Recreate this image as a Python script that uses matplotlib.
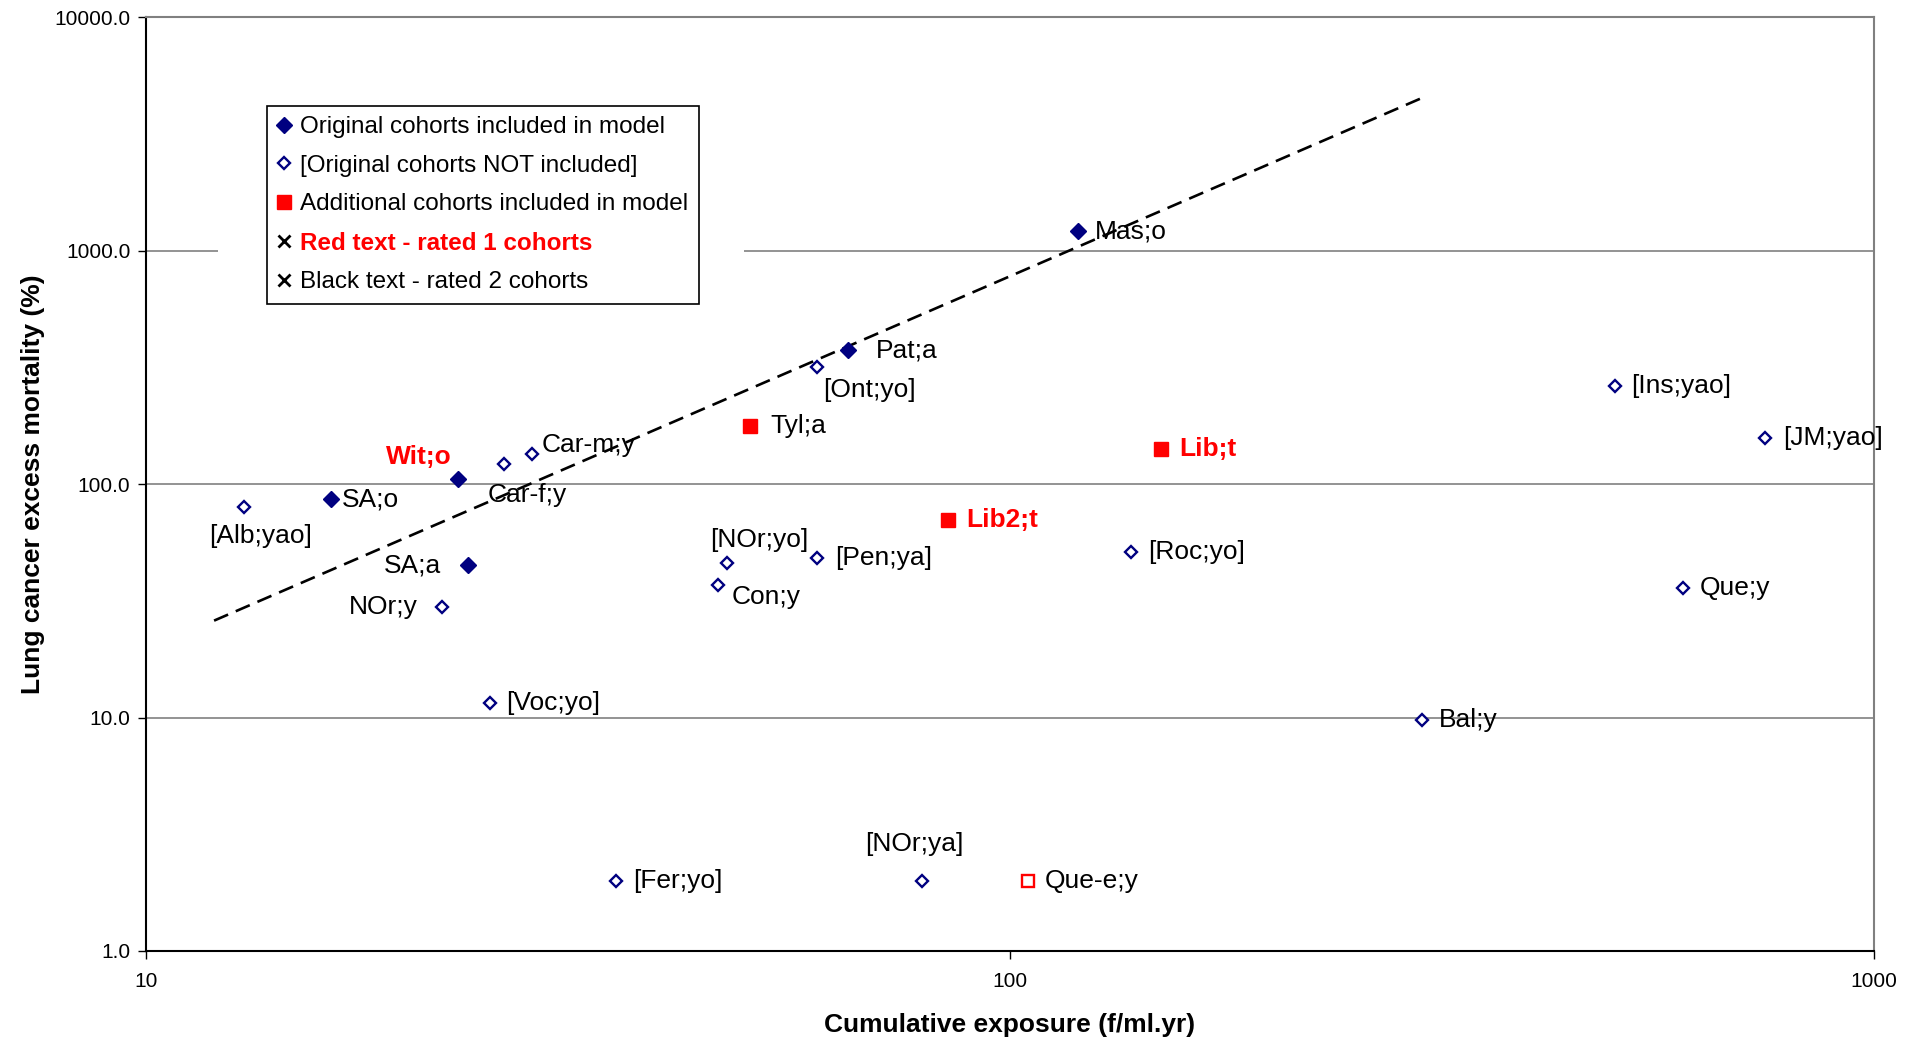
import matplotlib
matplotlib.use("Agg")
import matplotlib.pyplot as plt
from matplotlib.lines import Line2D
from matplotlib.patches import Rectangle
from matplotlib.ticker import FuncFormatter, FixedLocator, NullLocator

plt.rcParams['font.family'] = ['Liberation Sans', 'DejaVu Sans']
plt.rcParams['lines.scale_dashes'] = False

NAVY = '#000080'
RED = '#FF0000'

# original cohorts included in model (filled navy diamond)
orig_in_labels = ['Mas;o', 'Pat;a', 'Wit;o', 'SA;o', 'SA;a']
orig_in_x = [120, 65, 23.0, 16.4, 23.6]
orig_in_y = [1209, 375, 105.6, 86, 44.8]

# original cohorts NOT included (open navy diamond)
orig_out_labels = ['[Ont;yo]', 'Car-m;y', 'Car-f;y', '[Alb;yao]', 'NOr;y', '[Voc;yo]',
                   '[NOr;yo]', 'Con;y', '[Pen;ya]', '[Roc;yo]', '[Ins;yao]', '[JM;yao]',
                   'Que;y', 'Bal;y', '[Fer;yo]', '[NOr;ya]']
orig_out_x = [59.9, 28.0, 26.0, 13.0, 22.0, 25.0, 47.1, 46.0, 59.9, 138, 501, 748,
              601, 300, 35.0, 79.1]
orig_out_y = [317, 134, 122, 80, 29.7, 11.5, 45.9, 36.9, 48.2, 51.2, 264, 157,
              36, 9.8, 2.0, 2.0]

# additional cohorts included in model (red square)
add_labels = ['Tyl;a', 'Lib;t', 'Lib2;t']
add_x = [50.1, 149.8, 84.9]
add_y = [177, 141, 70]

# additional cohort shown as open red square
extra_labels = ['Que-e;y']
extra_x = [105]
extra_y = [2.0]

# rated 1 cohorts (red bold text)
rated1 = ['Wit;o', 'Lib;t', 'Lib2;t']

# fitted model line
fit_x = [12.0, 300]
fit_y = [26.0, 4508]

# label offsets in pixels and alignment
label_pos = {
    'Mas;o': (17, 0, 'left'), 'Pat;a': (28, 0, 'left'), '[Ont;yo]': (6, -23, 'left'),
    'Tyl;a': (20, 0, 'left'), 'Lib;t': (18, 0, 'left'), 'Lib2;t': (18, 0, 'left'),
    'Wit;o': (-7, 22, 'right'), 'Car-m;y': (10, 9, 'left'), 'Car-f;y': (-17, -31, 'left'),
    'SA;o': (11, 0, 'left'), '[Alb;yao]': (16, -29, 'center'), 'SA;a': (-27, 0, 'right'),
    'NOr;y': (-24, 0, 'right'), '[Voc;yo]': (17, 0, 'left'), '[NOr;yo]': (32, 23, 'center'),
    'Con;y': (13, -12, 'left'), '[Pen;ya]': (18, 0, 'left'), '[Roc;yo]': (17, 0, 'left'),
    '[Ins;yao]': (17, 0, 'left'), '[JM;yao]': (18, 0, 'left'), 'Que;y': (17, 0, 'left'),
    'Bal;y': (17, 0, 'left'), '[Fer;yo]': (17, 0, 'left'), '[NOr;ya]': (-7, 37, 'center'),
    'Que-e;y': (17, 0, 'left'),
}

fig = plt.figure(figsize=(19.19, 10.44), dpi=100)
ax = fig.add_axes([0.0759, 0.0891, 0.9006, 0.8945])
ax.set_xscale('log')
ax.set_yscale('log')
ax.set_xlim(10, 1000)
ax.set_ylim(1, 10000)

ax.plot(fit_x, fit_y, color='black', lw=1.9, dashes=(11, 6), zorder=2)

ax.plot(orig_in_x, orig_in_y, ls='none', marker='D', ms=7.8, color=NAVY, zorder=3)
ax.plot(orig_out_x, orig_out_y, ls='none', marker='D', ms=6.4, mfc='white', mec=NAVY,
        mew=1.7, zorder=3)
ax.plot(add_x, add_y, ls='none', marker='s', ms=9.8, color=RED, zorder=3)
ax.plot(extra_x, extra_y, ls='none', marker='s', ms=8.3, mfc='white', mec=RED, mew=1.7,
        zorder=3)

all_labels = orig_in_labels + orig_out_labels + add_labels + extra_labels
all_x = orig_in_x + orig_out_x + add_x + extra_x
all_y = orig_in_y + orig_out_y + add_y + extra_y
for lab, x, y in zip(all_labels, all_x, all_y):
    dx, dy, ha = label_pos[lab]
    red = lab in rated1
    ax.annotate(lab, (x, y), xytext=(dx, dy), textcoords='offset pixels',
                ha=ha, va='center', fontsize=19,
                color=RED if red else 'black',
                fontweight='bold' if red else 'normal', zorder=4)

# grid and axes styling
ax.yaxis.set_major_locator(FixedLocator([1, 10, 100, 1000, 10000]))
ax.xaxis.set_major_locator(FixedLocator([10, 100, 1000]))
ax.yaxis.set_minor_locator(NullLocator())
ax.xaxis.set_minor_locator(NullLocator())
ax.yaxis.set_major_formatter(FuncFormatter(lambda v, p: f"{v:.1f}"))
ax.xaxis.set_major_formatter(FuncFormatter(lambda v, p: f"{v:g}"))
ax.grid(axis='y', color='#808080', lw=1.2)
ax.tick_params(direction='out', length=6, width=1, labelsize=15)
ax.tick_params(axis='x', pad=9)
ax.tick_params(axis='y', pad=5)
for s in ['top', 'right']:
    ax.spines[s].set_color('#808080')
    ax.spines[s].set_linewidth(1.5)
for s in ['left', 'bottom']:
    ax.spines[s].set_color('black')
    ax.spines[s].set_linewidth(1.5)

# white area behind the legend hides part of the 1000 gridline
ax.add_patch(Rectangle((0.042, 0.74), 0.304, 0.02, transform=ax.transAxes,
                       facecolor='white', edgecolor='none', zorder=1.6))

ax.set_xlabel('Cumulative exposure (f/ml.yr)', fontsize=19, fontweight='bold', labelpad=16)
ax.set_ylabel('Lung cancer excess mortality (%)', fontsize=19, fontweight='bold', labelpad=7)

handles = [
    Line2D([], [], ls='none', marker='D', ms=7.8, color=NAVY),
    Line2D([], [], ls='none', marker='D', ms=6.4, mfc='white', mec=NAVY, mew=1.7),
    Line2D([], [], ls='none', marker='s', ms=9.8, color=RED),
    Line2D([], [], ls='none', marker='x', ms=8, color='black', mew=2),
    Line2D([], [], ls='none', marker='x', ms=8, color='black', mew=2),
]
names = ['Original cohorts included in model', '[Original cohorts NOT included]',
         'Additional cohorts included in model', 'Red text - rated 1 cohorts',
         'Black text - rated 2 cohorts']
leg = ax.legend(handles, names, loc='upper left', bbox_to_anchor=(0.0702, 0.9048),
                borderaxespad=0, fontsize=17.5, fancybox=False, framealpha=1,
                edgecolor='black', handlelength=0.6, handletextpad=0.35,
                labelspacing=0.68, borderpad=0.42)
leg.get_frame().set_linewidth(1.2)
leg.set_zorder(5)
t = leg.get_texts()[3]
t.set_color(RED)
t.set_fontweight('bold')

fig.savefig('out.png', dpi=100)
